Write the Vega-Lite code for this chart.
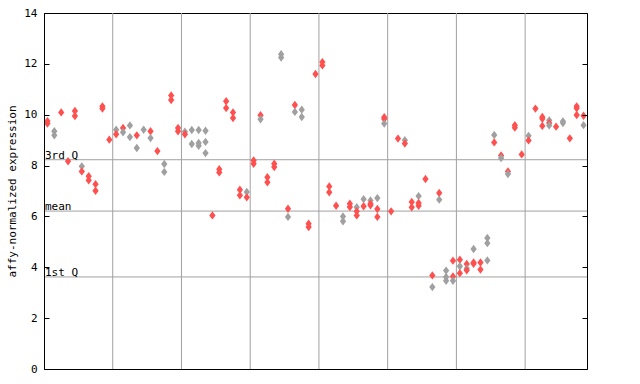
{
  "$schema": "https://vega.github.io/schema/vega-lite/v6.json",
  "width": 543,
  "height": 356,
  "autosize": {"type": "none"},
  "padding": {"left": 44, "top": 13, "right": 53, "bottom": 15},
  "background": "#ffffff",
  "config": {
    "view": {"stroke": "#000000", "strokeWidth": 1},
    "font": "DejaVu Sans Mono"
  },
  "datasets": {
    "refs": [
      {"label": "3rd Q", "v": 8.23},
      {"label": "mean", "v": 6.21},
      {"label": "1st Q", "v": 3.62}
    ],
    "grid": [{"b": 10}, {"b": 20}, {"b": 30}, {"b": 40}, {"b": 50}, {"b": 60}, {"b": 70}],
    "pts": [
      {"s":0,"v":9.75,"g":"a"},{"s":0,"v":9.65,"g":"a"},
      {"s":1,"v":9.35,"g":"b"},{"s":1,"v":9.19,"g":"b"},
      {"s":2,"v":10.09,"g":"a"},
      {"s":3,"v":8.17,"g":"a"},
      {"s":4,"v":10.15,"g":"a"},{"s":4,"v":9.95,"g":"a"},
      {"s":5,"v":7.97,"g":"b"},{"s":5,"v":7.77,"g":"a"},
      {"s":6,"v":7.58,"g":"a"},{"s":6,"v":7.42,"g":"a"},
      {"s":7,"v":7.27,"g":"a"},{"s":7,"v":7.01,"g":"a"},
      {"s":8,"v":10.33,"g":"a"},{"s":8,"v":10.24,"g":"a"},
      {"s":9,"v":9.02,"g":"a"},
      {"s":10,"v":9.41,"g":"b"},{"s":10,"v":9.23,"g":"a"},
      {"s":11,"v":9.48,"g":"a"},{"s":11,"v":9.31,"g":"b"},
      {"s":12,"v":9.58,"g":"b"},{"s":12,"v":9.12,"g":"b"},
      {"s":13,"v":9.19,"g":"a"},{"s":13,"v":8.69,"g":"b"},
      {"s":14,"v":9.41,"g":"b"},
      {"s":15,"v":9.35,"g":"a"},{"s":15,"v":9.08,"g":"b"},
      {"s":16,"v":8.57,"g":"a"},
      {"s":17,"v":8.06,"g":"b"},{"s":17,"v":7.75,"g":"b"},
      {"s":18,"v":10.76,"g":"a"},{"s":18,"v":10.58,"g":"a"},
      {"s":19,"v":9.48,"g":"a"},{"s":19,"v":9.35,"g":"a"},
      {"s":20,"v":9.33,"g":"b"},{"s":20,"v":9.23,"g":"a"},
      {"s":21,"v":9.40,"g":"b"},{"s":21,"v":8.85,"g":"b"},
      {"s":22,"v":9.40,"g":"b"},{"s":22,"v":8.89,"g":"b"},{"s":22,"v":8.78,"g":"b"},
      {"s":23,"v":9.37,"g":"b"},{"s":23,"v":8.93,"g":"b"},{"s":23,"v":8.49,"g":"b"},
      {"s":24,"v":6.04,"g":"a"},
      {"s":25,"v":7.86,"g":"a"},{"s":25,"v":7.73,"g":"a"},
      {"s":26,"v":10.53,"g":"a"},{"s":26,"v":10.26,"g":"a"},
      {"s":27,"v":10.09,"g":"a"},{"s":27,"v":9.87,"g":"a"},
      {"s":28,"v":7.05,"g":"a"},{"s":28,"v":6.83,"g":"a"},
      {"s":29,"v":6.96,"g":"b"},{"s":29,"v":6.75,"g":"a"},
      {"s":30,"v":8.2,"g":"a"},{"s":30,"v":8.07,"g":"a"},
      {"s":31,"v":9.98,"g":"a"},{"s":31,"v":9.82,"g":"b"},
      {"s":32,"v":7.54,"g":"a"},{"s":32,"v":7.34,"g":"a"},
      {"s":33,"v":8.07,"g":"a"},{"s":33,"v":7.94,"g":"a"},
      {"s":34,"v":12.38,"g":"b"},{"s":34,"v":12.25,"g":"b"},
      {"s":35,"v":6.3,"g":"a"},{"s":35,"v":5.98,"g":"b"},
      {"s":36,"v":10.38,"g":"a"},{"s":36,"v":10.11,"g":"b"},
      {"s":37,"v":10.2,"g":"b"},{"s":37,"v":9.91,"g":"b"},
      {"s":38,"v":5.71,"g":"a"},{"s":38,"v":5.58,"g":"a"},
      {"s":39,"v":11.6,"g":"a"},
      {"s":40,"v":12.07,"g":"a"},{"s":40,"v":11.94,"g":"a"},
      {"s":41,"v":7.18,"g":"a"},{"s":41,"v":6.95,"g":"a"},
      {"s":42,"v":6.42,"g":"a"},
      {"s":43,"v":6.0,"g":"b"},{"s":43,"v":5.81,"g":"b"},
      {"s":44,"v":6.5,"g":"a"},{"s":44,"v":6.37,"g":"a"},
      {"s":45,"v":6.36,"g":"b"},{"s":45,"v":6.2,"g":"a"},{"s":45,"v":6.04,"g":"a"},
      {"s":46,"v":6.68,"g":"b"},{"s":46,"v":6.4,"g":"a"},
      {"s":47,"v":6.63,"g":"b"},{"s":47,"v":6.5,"g":"a"},{"s":47,"v":6.44,"g":"a"},
      {"s":48,"v":6.72,"g":"b"},{"s":48,"v":6.29,"g":"a"},{"s":48,"v":5.98,"g":"a"},
      {"s":49,"v":9.9,"g":"a"},{"s":49,"v":9.83,"g":"a"},{"s":49,"v":9.65,"g":"b"},
      {"s":50,"v":6.2,"g":"a"},
      {"s":51,"v":9.06,"g":"a"},
      {"s":52,"v":9.0,"g":"b"},{"s":52,"v":8.87,"g":"a"},
      {"s":53,"v":6.57,"g":"a"},{"s":53,"v":6.36,"g":"a"},
      {"s":54,"v":6.8,"g":"b"},{"s":54,"v":6.53,"g":"a"},{"s":54,"v":6.42,"g":"a"},
      {"s":55,"v":7.47,"g":"a"},
      {"s":56,"v":3.68,"g":"a"},{"s":56,"v":3.22,"g":"b"},
      {"s":57,"v":6.92,"g":"a"},{"s":57,"v":6.66,"g":"b"},
      {"s":58,"v":3.87,"g":"b"},{"s":58,"v":3.62,"g":"b"},{"s":58,"v":3.47,"g":"b"},
      {"s":59,"v":4.26,"g":"a"},{"s":59,"v":3.64,"g":"a"},{"s":59,"v":3.47,"g":"b"},
      {"s":60,"v":4.3,"g":"a"},{"s":60,"v":4.04,"g":"b"},{"s":60,"v":3.77,"g":"a"},
      {"s":61,"v":4.13,"g":"a"},{"s":61,"v":3.95,"g":"b"},{"s":61,"v":3.88,"g":"a"},
      {"s":62,"v":4.72,"g":"b"},{"s":62,"v":4.19,"g":"a"},{"s":62,"v":4.14,"g":"a"},
      {"s":63,"v":4.19,"g":"a"},{"s":63,"v":3.91,"g":"a"},
      {"s":64,"v":5.15,"g":"b"},{"s":64,"v":4.95,"g":"b"},{"s":64,"v":4.27,"g":"b"},
      {"s":65,"v":9.2,"g":"b"},{"s":65,"v":8.91,"g":"a"},
      {"s":66,"v":8.4,"g":"a"},{"s":66,"v":8.3,"g":"b"},
      {"s":67,"v":7.77,"g":"a"},{"s":67,"v":7.67,"g":"b"},
      {"s":68,"v":9.59,"g":"a"},{"s":68,"v":9.49,"g":"a"},
      {"s":69,"v":8.44,"g":"a"},
      {"s":70,"v":9.17,"g":"b"},{"s":70,"v":8.99,"g":"a"},
      {"s":71,"v":10.24,"g":"a"},
      {"s":72,"v":9.91,"g":"a"},{"s":72,"v":9.84,"g":"a"},{"s":72,"v":9.56,"g":"a"},
      {"s":73,"v":9.78,"g":"b"},{"s":73,"v":9.67,"g":"a"},{"s":73,"v":9.58,"g":"b"},
      {"s":74,"v":9.53,"g":"a"},
      {"s":75,"v":9.74,"g":"b"},{"s":75,"v":9.67,"g":"b"},
      {"s":76,"v":9.07,"g":"a"},
      {"s":77,"v":10.33,"g":"a"},{"s":77,"v":10.25,"g":"a"},{"s":77,"v":9.99,"g":"a"},
      {"s":78,"v":9.96,"g":"a"},{"s":78,"v":9.59,"g":"b"}
    ]
  },
  "layer": [
    {
      "data": {"name": "grid"},
      "mark": {"type": "rule", "color": "#a0a0a0", "strokeWidth": 1},
      "encoding": {
        "x": {"field": "b", "type": "ordinal", "bandPosition": 0, "axis": null}
      }
    },
    {
      "data": {"name": "refs"},
      "mark": {"type": "rule", "color": "#a0a0a0", "strokeWidth": 1},
      "encoding": {
        "y": {
          "field": "v", "type": "quantitative",
          "scale": {"domain": [0, 14], "nice": false, "zero": false},
          "axis": {"orient": "right", "labels": false, "title": null, "ticks": true, "tickSize": -5, "tickColor": "#000000", "tickOpacity": 1, "domain": false, "grid": false, "zindex": 2, "values": [0, 2, 4, 6, 8, 10, 12, 14]}
        }
      }
    },
    {
      "data": {"name": "pts"},
      "mark": {"type": "point", "shape": "M0,-1L0.75,0L0,1L-0.75,0Z", "filled": true, "size": 70, "opacity": 1, "strokeWidth": 0},
      "encoding": {
        "x": {
          "field": "s", "type": "ordinal",
          "scale": {"domain": [0,1,2,3,4,5,6,7,8,9,10,11,12,13,14,15,16,17,18,19,20,21,22,23,24,25,26,27,28,29,30,31,32,33,34,35,36,37,38,39,40,41,42,43,44,45,46,47,48,49,50,51,52,53,54,55,56,57,58,59,60,61,62,63,64,65,66,67,68,69,70,71,72,73,74,75,76,77,78], "paddingInner": 0, "paddingOuter": 0},
          "axis": null
        },
        "y": {
          "field": "v", "type": "quantitative",
          "axis": {"orient": "left", "values": [0, 2, 4, 6, 8, 10, 12, 14], "grid": false, "ticks": true, "tickSize": -5, "tickColor": "#000000", "tickOpacity": 1, "zindex": 2, "domainColor": "#000000", "labelPadding": 12, "labelFontSize": 11, "labelColor": "#000000", "labelFont": "DejaVu Sans Mono", "title": "affy-normalized expression", "titleFont": "DejaVu Sans Mono", "titleFontSize": 11, "titleFontWeight": "normal", "titleColor": "#000000", "titlePadding": 6}
        },
        "color": {"field": "g", "type": "nominal", "scale": {"domain": ["a", "b"], "range": ["#ff5050", "#a0a0a0"]}, "legend": null}
      }
    },
    {
      "data": {"name": "refs"},
      "mark": {"type": "text", "align": "left", "baseline": "alphabetic", "dx": 1, "dy": -1, "fontSize": 11, "font": "DejaVu Sans Mono", "color": "#000000"},
      "encoding": {
        "x": {"datum": 0, "type": "ordinal", "bandPosition": 0, "axis": null},
        "y": {"field": "v", "type": "quantitative", "axis": null},
        "text": {"field": "label"}
      }
    }
  ],
  "resolve": {"axis": {"y": "independent"}}
}
